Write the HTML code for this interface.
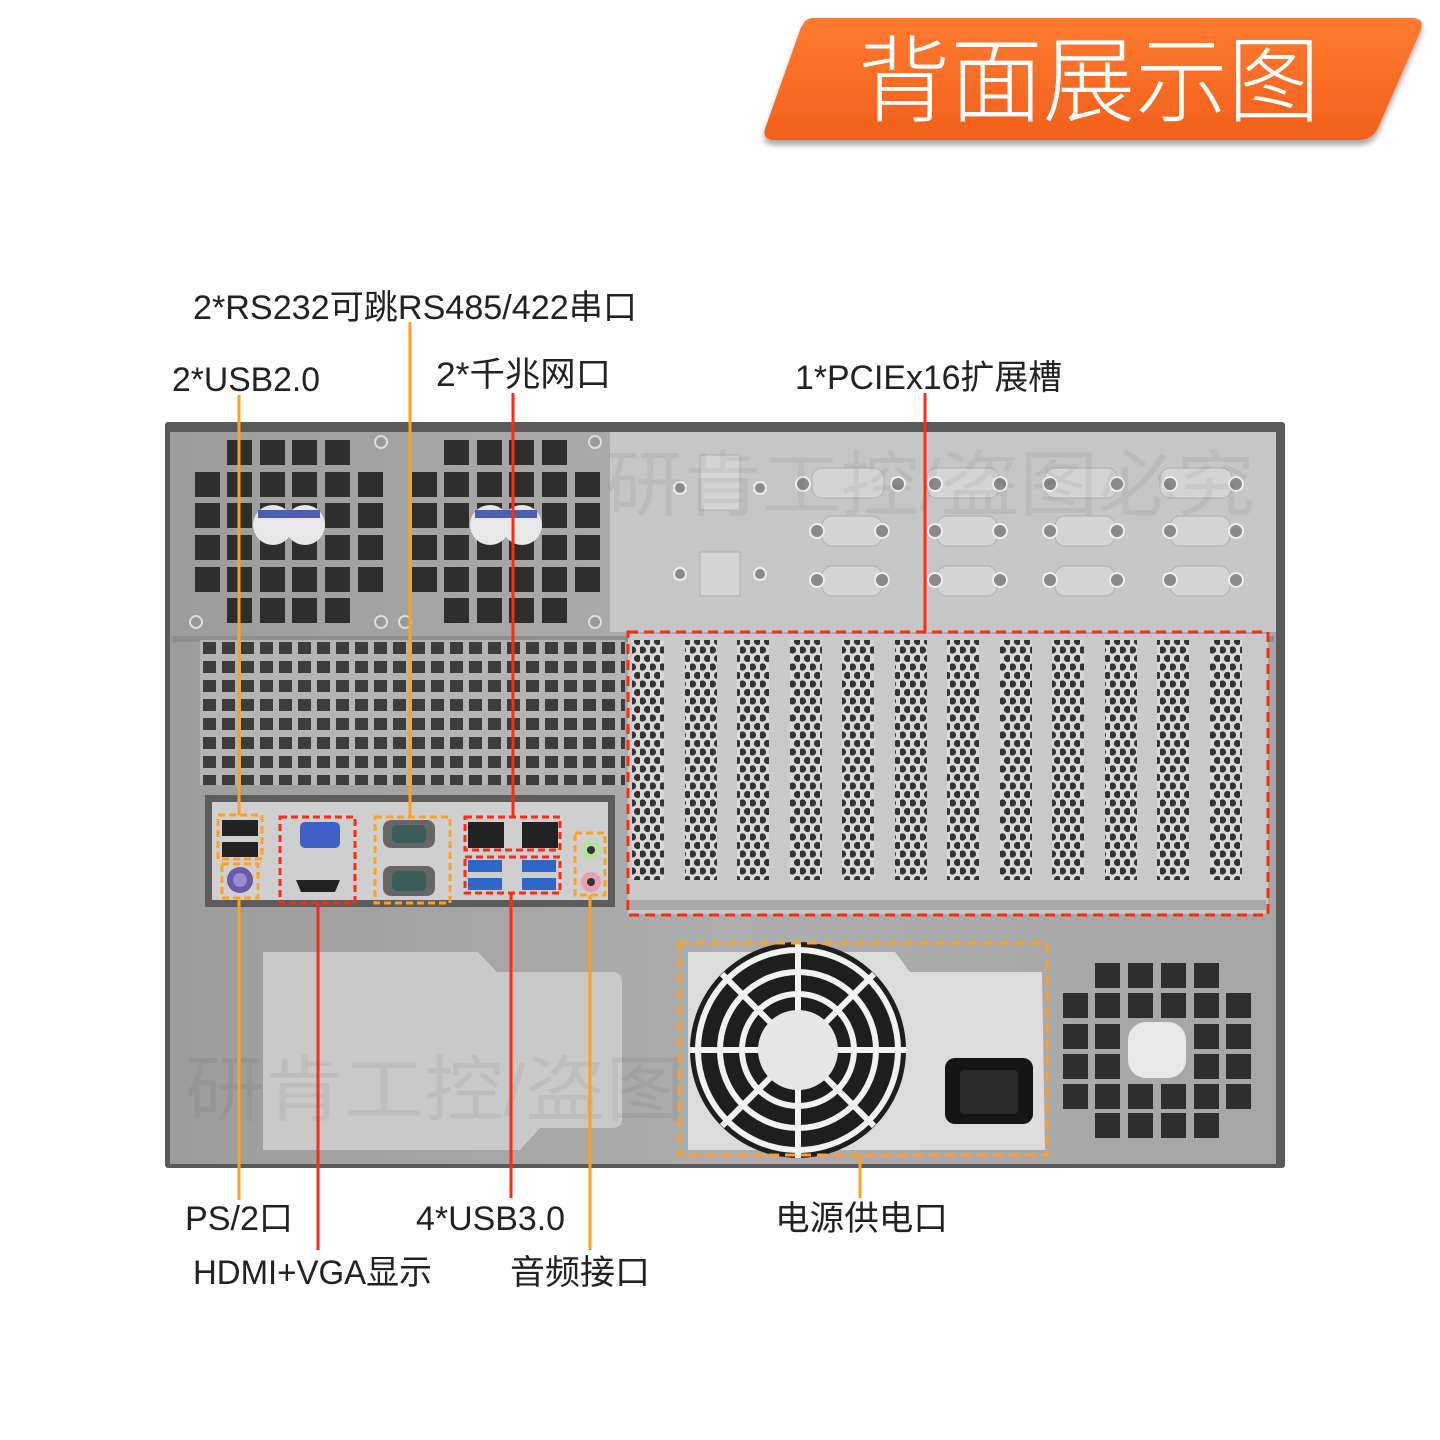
<!DOCTYPE html>
<html><head><meta charset="utf-8"><style>
html,body{margin:0;padding:0;background:#fff;}
svg{display:block;}
text{font-family:"Liberation Sans","Noto Sans CJK SC",sans-serif;}
</style></head><body>
<svg width="1440" height="1440" viewBox="0 0 1440 1440" xmlns="http://www.w3.org/2000/svg">
<defs>
 <linearGradient id="bn" x1="0" y1="0" x2="0" y2="1">
  <stop offset="0" stop-color="#ff7a30"/><stop offset="1" stop-color="#f2601c"/>
 </linearGradient>
 <linearGradient id="body" x1="0" y1="0" x2="1" y2="0">
  <stop offset="0" stop-color="#9c9c9c"/><stop offset="0.5" stop-color="#adadad"/><stop offset="1" stop-color="#a6a6a6"/>
 </linearGradient>
 <pattern id="mesh" x="203" y="642" width="19" height="19" patternUnits="userSpaceOnUse">
  <rect width="19" height="19" fill="#b4b4b4"/><rect x="0" y="0" width="13" height="12" fill="#3c3c3c"/>
 </pattern>
 <pattern id="hex" x="0" y="0" width="10" height="17" patternUnits="userSpaceOnUse">
  <rect width="10" height="17" fill="#d8d8d8"/>
  <circle cx="2.5" cy="4" r="3.6" fill="#333"/><circle cx="7.5" cy="12.5" r="3.6" fill="#333"/>
 </pattern>
 <filter id="sh" x="-5%" y="-10%" width="110%" height="130%"><feDropShadow dx="0" dy="5" stdDeviation="3" flood-color="#000" flood-opacity="0.35"/></filter>
</defs>

<path d="M812 18 L1412 18 Q1426 18 1420 32 L1378 128 Q1372 140 1358 140 L776 140 Q760 140 766 126 L800 30 Q805 18 812 18 Z" fill="url(#bn)" filter="url(#sh)"/>
<text x="858" y="114" font-size="94" fill="#fff" textLength="462" lengthAdjust="spacingAndGlyphs" style="font-weight:300">背面展示图</text>

<rect x="165" y="422" width="1120" height="746" rx="3" fill="#5a5a5a"/>
<rect x="170" y="432" width="1106" height="732" fill="url(#body)"/>
<rect x="610" y="432" width="666" height="200" fill="#c6c6c6"/>
<rect x="172" y="636" width="1102" height="6" fill="#8f8f8f"/>

<g fill="#d4d4d4" stroke="#b0b0b0" stroke-width="1">
 <rect x="700" y="455" width="40" height="55"/><rect x="700" y="552" width="40" height="44"/>
 <rect x="812" y="468" width="72" height="30" rx="10"/><rect x="927" y="468" width="72" height="30" rx="10"/><rect x="1045" y="468" width="72" height="30" rx="10"/><rect x="1160" y="468" width="72" height="30" rx="10"/>
 <rect x="822" y="516" width="60" height="30" rx="10"/><rect x="937" y="516" width="60" height="30" rx="10"/><rect x="1055" y="516" width="60" height="30" rx="10"/><rect x="1170" y="516" width="60" height="30" rx="10"/>
 <rect x="822" y="566" width="60" height="30" rx="10"/><rect x="937" y="566" width="60" height="30" rx="10"/><rect x="1055" y="566" width="60" height="30" rx="10"/><rect x="1170" y="566" width="60" height="30" rx="10"/>
</g>
<g fill="#8a8a8a" stroke="#eee" stroke-width="2">
 <circle cx="680" cy="488" r="6"/><circle cx="760" cy="488" r="6"/><circle cx="680" cy="574" r="6"/><circle cx="760" cy="574" r="6"/>
 <circle cx="803" cy="484" r="7"/><circle cx="898" cy="484" r="7"/><circle cx="935" cy="484" r="7"/><circle cx="1000" cy="484" r="7"/><circle cx="1050" cy="484" r="7"/><circle cx="1117" cy="484" r="7"/><circle cx="1170" cy="484" r="7"/><circle cx="1236" cy="484" r="7"/>
 <circle cx="817" cy="531" r="7"/><circle cx="882" cy="531" r="7"/><circle cx="935" cy="531" r="7"/><circle cx="1000" cy="531" r="7"/><circle cx="1050" cy="531" r="7"/><circle cx="1117" cy="531" r="7"/><circle cx="1170" cy="531" r="7"/><circle cx="1236" cy="531" r="7"/>
 <circle cx="817" cy="580" r="7"/><circle cx="882" cy="580" r="7"/><circle cx="935" cy="580" r="7"/><circle cx="1000" cy="580" r="7"/><circle cx="1050" cy="580" r="7"/><circle cx="1117" cy="580" r="7"/><circle cx="1170" cy="580" r="7"/><circle cx="1236" cy="580" r="7"/>
</g>
<text x="605" y="510" font-size="72" fill="#000" fill-opacity="0.05" textLength="650" lengthAdjust="spacingAndGlyphs">研肯工控/盗图必究</text>

<g fill="#2e2e2e" id="fan1">
 <rect x="227" y="440" width="25" height="25"/><rect x="260" y="440" width="25" height="25"/><rect x="292" y="440" width="25" height="25"/><rect x="325" y="440" width="25" height="25"/>
 <rect x="195" y="472" width="25" height="25"/><rect x="227" y="472" width="25" height="25"/><rect x="260" y="472" width="25" height="25"/><rect x="292" y="472" width="25" height="25"/><rect x="325" y="472" width="25" height="25"/><rect x="358" y="472" width="25" height="25"/>
 <rect x="195" y="503" width="25" height="25"/><rect x="227" y="503" width="25" height="25"/><rect x="260" y="503" width="25" height="25"/><rect x="292" y="503" width="25" height="25"/><rect x="325" y="503" width="25" height="25"/><rect x="358" y="503" width="25" height="25"/>
 <rect x="195" y="535" width="25" height="25"/><rect x="227" y="535" width="25" height="25"/><rect x="260" y="535" width="25" height="25"/><rect x="292" y="535" width="25" height="25"/><rect x="325" y="535" width="25" height="25"/><rect x="358" y="535" width="25" height="25"/>
 <rect x="195" y="567" width="25" height="25"/><rect x="227" y="567" width="25" height="25"/><rect x="260" y="567" width="25" height="25"/><rect x="292" y="567" width="25" height="25"/><rect x="325" y="567" width="25" height="25"/><rect x="358" y="567" width="25" height="25"/>
 <rect x="227" y="598" width="25" height="25"/><rect x="260" y="598" width="25" height="25"/><rect x="292" y="598" width="25" height="25"/><rect x="325" y="598" width="25" height="25"/>
</g>
<g fill="#e8e8e8"><circle cx="273" cy="525" r="20"/><circle cx="305" cy="525" r="20"/><rect x="258" y="510" width="62" height="8" fill="#4a5fb0"/></g>
<use href="#fan1" x="217" y="0"/>
<g fill="#e8e8e8"><circle cx="490" cy="525" r="20"/><circle cx="522" cy="525" r="20"/><rect x="475" y="510" width="62" height="8" fill="#4a5fb0"/></g>
<g fill="#999" stroke="#ddd" stroke-width="2"><circle cx="196" cy="622" r="6"/><circle cx="381" cy="442" r="6"/><circle cx="381" cy="622" r="6"/><circle cx="405" cy="622" r="6"/><circle cx="595" cy="442" r="6"/><circle cx="595" cy="622" r="6"/></g>

<rect x="200" y="640" width="425" height="145" fill="url(#mesh)"/>

<rect x="628" y="634" width="640" height="280" fill="#c9c9c9"/>
<g fill="url(#hex)">
 <rect x="632" y="640" width="32" height="240"/><rect x="685" y="640" width="32" height="240"/><rect x="737" y="640" width="32" height="240"/><rect x="790" y="640" width="32" height="240"/><rect x="842" y="640" width="32" height="240"/><rect x="895" y="640" width="32" height="240"/><rect x="947" y="640" width="32" height="240"/><rect x="1000" y="640" width="32" height="240"/><rect x="1052" y="640" width="32" height="240"/><rect x="1105" y="640" width="32" height="240"/><rect x="1157" y="640" width="32" height="240"/><rect x="1210" y="640" width="32" height="240"/>
</g>
<rect x="630" y="900" width="636" height="10" fill="#a9a9a9"/>

<rect x="205" y="795" width="410" height="112" fill="#5c5c5c"/>
<rect x="212" y="802" width="396" height="98" fill="#cfcfcf"/>
<g fill="#222"><rect x="222" y="820" width="36" height="16"/><rect x="222" y="842" width="36" height="15"/></g>
<circle cx="240" cy="880" r="13" fill="#6b5aa8"/><circle cx="240" cy="880" r="7" fill="#9a88d0"/>
<rect x="300" y="822" width="40" height="26" rx="5" fill="#4060c8"/>
<path d="M296 880 h44 l-5 12 h-34 z" fill="#222"/>
<rect x="383" y="820" width="52" height="28" rx="8" fill="#666"/><rect x="392" y="825" width="34" height="18" rx="5" fill="#3b5e58"/>
<rect x="383" y="866" width="52" height="30" rx="8" fill="#666"/><rect x="392" y="871" width="34" height="20" rx="5" fill="#3b5e58"/>
<g fill="#222"><rect x="468" y="822" width="36" height="26"/><rect x="522" y="822" width="36" height="26"/></g>
<g fill="#2f67c8"><rect x="468" y="860" width="34" height="12"/><rect x="468" y="878" width="34" height="12"/><rect x="522" y="860" width="34" height="12"/><rect x="522" y="878" width="34" height="12"/></g>
<circle cx="591" cy="850" r="10" fill="#b8e0a0"/><circle cx="591" cy="850" r="4" fill="#333"/>
<circle cx="591" cy="882" r="10" fill="#e8a0b0"/><circle cx="591" cy="882" r="4" fill="#333"/>

<path d="M263 952 L478 952 L497 972 L612 972 Q622 972 622 982 L622 1118 Q622 1128 612 1128 L540 1128 L520 1150 L263 1150 Z" fill="#c9c9c9"/>
<text x="185" y="1115" font-size="72" fill="#000" fill-opacity="0.05" textLength="500" lengthAdjust="spacingAndGlyphs">研肯工控/盗图</text>

<path d="M688 952 L895 952 L910 972 L1042 972 L1045 1150 L688 1150 Z" fill="#dcdcdc"/>
<circle cx="798" cy="1050" r="108" fill="#1e1e1e"/>
<g fill="none" stroke="#f2f2f2" stroke-width="6">
 <circle cx="798" cy="1050" r="100"/><circle cx="798" cy="1050" r="78"/><circle cx="798" cy="1050" r="56"/>
 <path d="M798 942 V1158 M690 1050 H906 M722 974 L874 1126 M874 974 L722 1126"/>
</g>
<circle cx="798" cy="1050" r="40" fill="#e6e6e6"/>
<rect x="945" y="1058" width="88" height="66" rx="10" fill="#151515"/>
<rect x="960" y="1070" width="58" height="44" rx="4" fill="#2a2a2a"/>

<g fill="#2e2e2e">
 <rect x="1095" y="963" width="25" height="25"/><rect x="1128" y="963" width="25" height="25"/><rect x="1161" y="963" width="25" height="25"/><rect x="1194" y="963" width="25" height="25"/>
 <rect x="1063" y="993" width="25" height="25"/><rect x="1095" y="993" width="25" height="25"/><rect x="1128" y="993" width="25" height="25"/><rect x="1161" y="993" width="25" height="25"/><rect x="1194" y="993" width="25" height="25"/><rect x="1226" y="993" width="25" height="25"/>
 <rect x="1063" y="1024" width="25" height="25"/><rect x="1095" y="1024" width="25" height="25"/><rect x="1194" y="1024" width="25" height="25"/><rect x="1226" y="1024" width="25" height="25"/>
 <rect x="1063" y="1054" width="25" height="25"/><rect x="1095" y="1054" width="25" height="25"/><rect x="1194" y="1054" width="25" height="25"/><rect x="1226" y="1054" width="25" height="25"/>
 <rect x="1063" y="1084" width="25" height="25"/><rect x="1095" y="1084" width="25" height="25"/><rect x="1128" y="1084" width="25" height="25"/><rect x="1161" y="1084" width="25" height="25"/><rect x="1194" y="1084" width="25" height="25"/><rect x="1226" y="1084" width="25" height="25"/>
 <rect x="1095" y="1113" width="25" height="25"/><rect x="1128" y="1113" width="25" height="25"/><rect x="1161" y="1113" width="25" height="25"/><rect x="1194" y="1113" width="25" height="25"/>
</g>
<g fill="#e8e8e8"><rect x="1128" y="1022" width="58" height="56" rx="18"/></g>

<g fill="none" stroke-width="3" stroke-dasharray="10 6">
 <rect x="628" y="632" width="640" height="283" stroke="#ff2a10"/>
 <rect x="679" y="943" width="368" height="212" stroke="#ffa020"/>
 <rect x="218" y="815" width="44" height="44" stroke="#ffa020" stroke-dasharray="7 4"/>
 <rect x="222" y="864" width="36" height="34" stroke="#ffa020" stroke-dasharray="7 4"/>
 <rect x="280" y="817" width="75" height="86" stroke="#ff2a10" stroke-dasharray="7 4"/>
 <rect x="375" y="817" width="75" height="86" stroke="#ffa020" stroke-dasharray="7 4"/>
 <rect x="465" y="817" width="95" height="33" stroke="#ff2a10" stroke-dasharray="7 4"/>
 <rect x="465" y="857" width="95" height="36" stroke="#ff2a10" stroke-dasharray="7 4"/>
 <rect x="575" y="833" width="30" height="62" stroke="#ffa020" stroke-dasharray="7 4"/>
</g>

<g stroke-width="3" fill="none">
 <path d="M239 395 V815 M239 898 V1200 M410 322 V817 M590 895 V1250 M860 1155 V1198" stroke="#ffa020"/>
 <path d="M513 393 V817 M925 393 V632 M318 903 V1250 M511 893 V1198" stroke="#ff2a10"/>
</g>

<g font-size="34" fill="#222">
 <text x="193" y="319" textLength="444" lengthAdjust="spacingAndGlyphs">2*RS232可跳RS485/422串口</text>
 <text x="172" y="391" textLength="148" lengthAdjust="spacingAndGlyphs">2*USB2.0</text>
 <text x="436" y="386" textLength="175" lengthAdjust="spacingAndGlyphs">2*千兆网口</text>
 <text x="795" y="389" textLength="267" lengthAdjust="spacingAndGlyphs">1*PCIEx16扩展槽</text>
 <text x="185" y="1230" textLength="108" lengthAdjust="spacingAndGlyphs">PS/2口</text>
 <text x="416" y="1230" textLength="149" lengthAdjust="spacingAndGlyphs">4*USB3.0</text>
 <text x="775" y="1230" textLength="173" lengthAdjust="spacingAndGlyphs">电源供电口</text>
 <text x="193" y="1284" textLength="239" lengthAdjust="spacingAndGlyphs">HDMI+VGA显示</text>
 <text x="510" y="1284" textLength="140" lengthAdjust="spacingAndGlyphs">音频接口</text>
</g>
</svg>
</body></html>
